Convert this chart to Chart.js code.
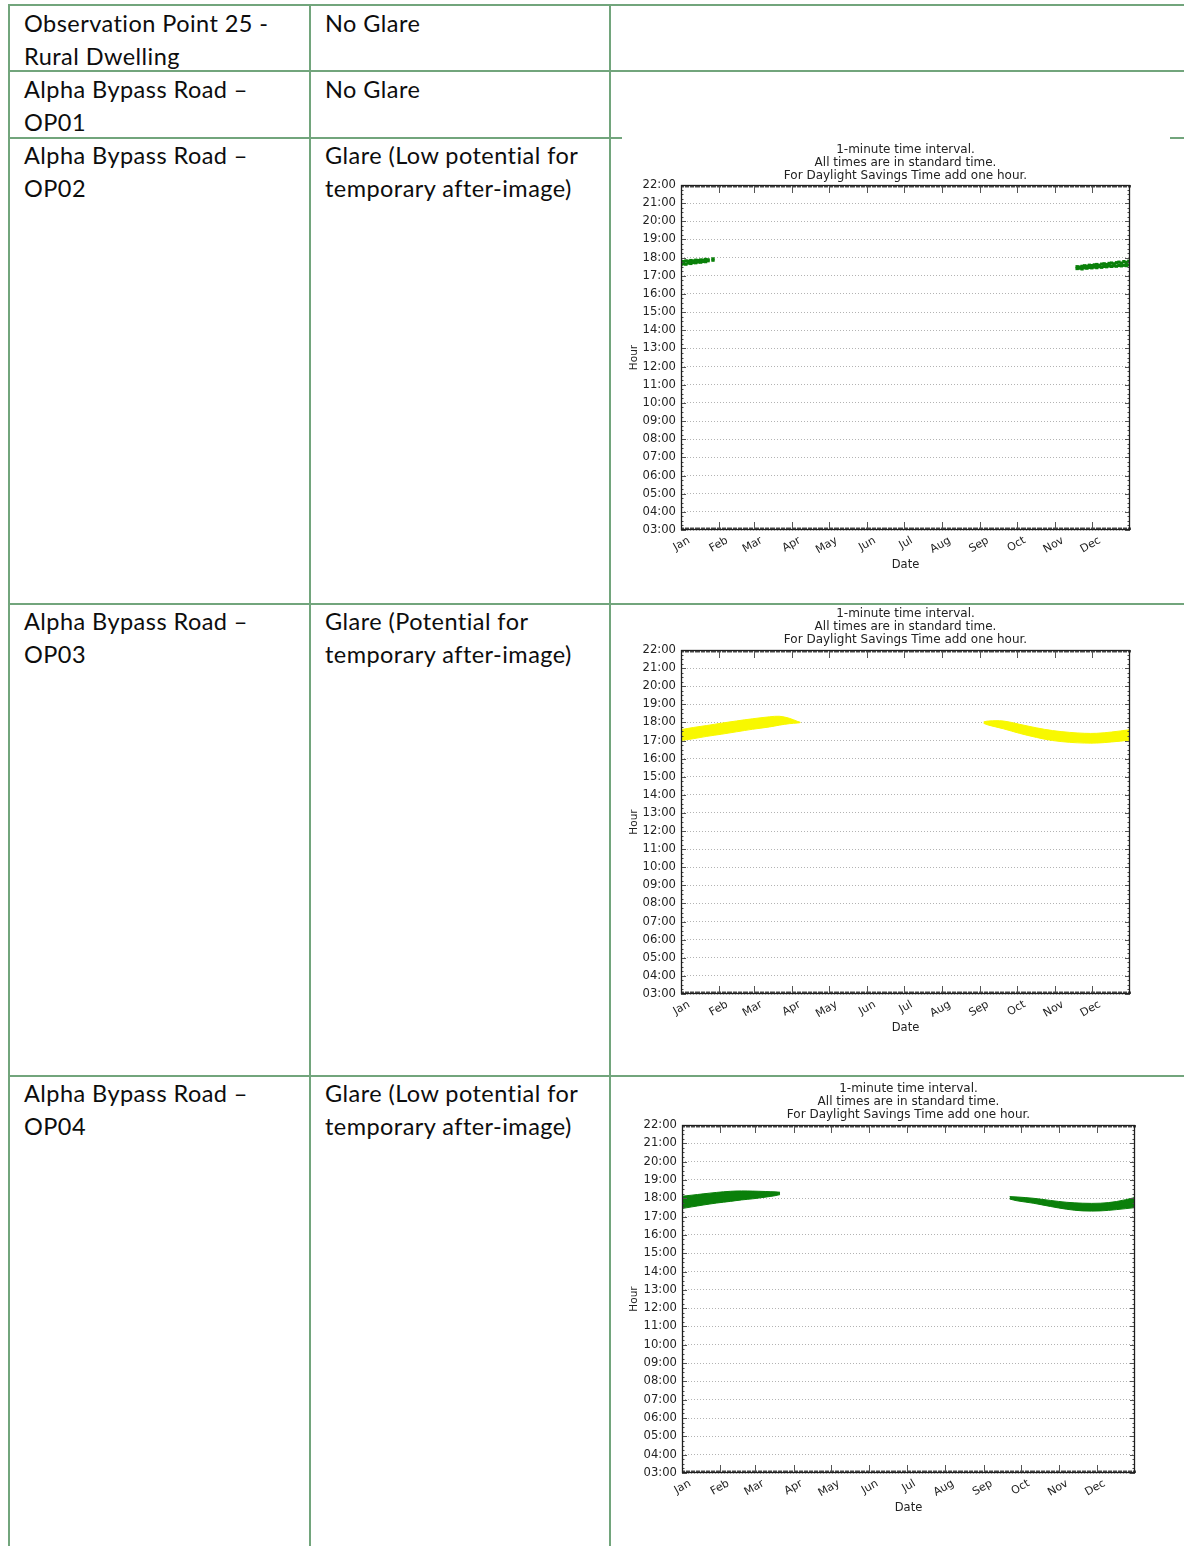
<!DOCTYPE html>
<html>
<head>
<meta charset="utf-8">
<script src="https://cdn.jsdelivr.net/npm/chart.js@4.4.0/dist/chart.umd.min.js"></script>
<style>
  html, body { margin: 0; padding: 0; background: #fff; }
  body { position: relative; width: 1184px; height: 1546px; overflow: hidden; }
  .hl { position: absolute; height: 2px; background: #72a57c; }
  .vl { position: absolute; width: 2px; background: #72a57c; }
  .cell { position: absolute; font-family: Lato, "Open Sans", sans-serif; font-size: 23.5px;
          letter-spacing: 0.45px; line-height: 33px; color: #0d0d0d; white-space: nowrap; }
  canvas { position: absolute; display: block; }
</style>
</head>
<body>

<!-- table rules -->
<div class="hl" style="left:8px;  top:4px;    width:1176px"></div>
<div class="hl" style="left:8px;  top:70px;   width:1176px"></div>
<div class="hl" style="left:8px;  top:137px;  width:614px"></div>
<div class="hl" style="left:1170px; top:137px; width:14px"></div>
<div class="hl" style="left:8px;  top:603px;  width:1176px"></div>
<div class="hl" style="left:8px;  top:1075px; width:1176px"></div>
<div class="vl" style="left:8px;   top:4px; height:1542px"></div>
<div class="vl" style="left:309px; top:4px; height:1542px"></div>
<div class="vl" style="left:609px; top:4px; height:1542px"></div>

<!-- table text -->
<div class="cell" style="left:24px;  top:6.5px">Observation Point 25 -<br>Rural Dwelling</div>
<div class="cell" style="left:325px; top:6.5px">No Glare</div>
<div class="cell" style="left:24px;  top:73px">Alpha Bypass Road –<br>OP01</div>
<div class="cell" style="left:325px; top:73px">No Glare</div>
<div class="cell" style="left:24px;  top:139px">Alpha Bypass Road –<br>OP02</div>
<div class="cell" style="left:325px; top:139px">Glare (Low potential for<br>temporary after-image)</div>
<div class="cell" style="left:24px;  top:605px">Alpha Bypass Road –<br>OP03</div>
<div class="cell" style="left:325px; top:605px">Glare (Potential for<br>temporary after-image)</div>
<div class="cell" style="left:24px;  top:1077px">Alpha Bypass Road –<br>OP04</div>
<div class="cell" style="left:325px; top:1077px">Glare (Low potential for<br>temporary after-image)</div>

<canvas id="op02" width="572" height="463" style="left:612px; top:139px; width:572px; height:463px"></canvas>
<canvas id="op03" width="572" height="469" style="left:612px; top:605px; width:572px; height:469px"></canvas>
<canvas id="op04" width="578" height="469" style="left:612px; top:1077px; width:578px; height:469px"></canvas>

<script>
// ---- axis labels ----
const noteLines = ['1-minute time interval.', 'All times are in standard time.', 'For Daylight Savings Time add one hour.'];
const monthLabels = ['Jan', 'Feb', 'Mar', 'Apr', 'May', 'Jun', 'Jul', 'Aug', 'Sep', 'Oct', 'Nov', 'Dec'];
const monthStartDays = [0, 31, 59, 90, 120, 151, 181, 212, 243, 273, 304, 334];
const hourMin = 3;
const hourMax = 22;

// ---- OP02: glare minutes (day of year, hour of day) ----
const op02JanDays   = [0, 2, 4, 6, 8, 10, 12, 14, 16, 18, 20, 22, 26];
const op02JanUpper  = [17.80, 17.78, 17.82, 17.80, 17.84, 17.82, 17.86, 17.84, 17.87, 17.86, 17.90, 17.88, 17.93];
const op02JanLower  = [17.62, 17.66, 17.64, 17.70, 17.68, 17.73, 17.72, 17.76, 17.75, 17.79, 17.78, 17.83, 17.86];
const op02DecDays   = [322, 324, 326, 328, 330, 332, 334, 336, 338, 340, 342, 344, 346, 348, 350, 352, 354, 356, 358, 360, 362, 364];
const op02DecUpper  = [17.50, 17.48, 17.52, 17.55, 17.53, 17.58, 17.56, 17.60, 17.62, 17.58, 17.64, 17.66, 17.62, 17.68, 17.70, 17.66, 17.72, 17.75, 17.70, 17.78, 17.74, 17.80];
const op02DecLower  = [17.40, 17.42, 17.38, 17.44, 17.42, 17.46, 17.44, 17.48, 17.45, 17.50, 17.47, 17.52, 17.50, 17.54, 17.52, 17.55, 17.53, 17.57, 17.55, 17.58, 17.56, 17.60];

// ---- OP03: glare window (first / last glare time per day) ----
const op03SpringDays  = [0, 10, 21, 33, 45, 58, 72, 80, 88, 95, 97];
const op03SpringLast  = [17.60, 17.72, 17.83, 17.96, 18.08, 18.20, 18.31, 18.34, 18.23, 18.05, 18.01];
const op03SpringFirst = [17.00, 17.10, 17.23, 17.35, 17.48, 17.62, 17.75, 17.85, 17.93, 17.97, 17.99];
const op03AutumnDays  = [246, 250, 262, 275, 289, 302, 316, 328, 338, 350, 365];
const op03AutumnLast  = [18.03, 18.08, 18.08, 17.90, 17.70, 17.55, 17.45, 17.40, 17.40, 17.47, 17.60];
const op03AutumnFirst = [17.95, 17.85, 17.65, 17.40, 17.17, 17.00, 16.90, 16.86, 16.86, 16.92, 17.02];

// ---- OP04: glare window (first / last glare time per day) ----
const op04SpringDays  = [0, 8, 17, 28, 39, 48, 57, 67, 75, 79];
const op04SpringLast  = [18.11, 18.17, 18.24, 18.32, 18.38, 18.40, 18.39, 18.37, 18.35, 18.33];
const op04SpringFirst = [17.44, 17.53, 17.63, 17.74, 17.83, 17.91, 17.97, 18.06, 18.14, 18.20];
const op04AutumnDays  = [264, 270, 283, 297, 310, 323, 337, 350, 365];
const op04AutumnLast  = [18.09, 18.07, 18.00, 17.88, 17.78, 17.73, 17.73, 17.82, 18.04];
const op04AutumnFirst = [17.96, 17.86, 17.73, 17.55, 17.40, 17.31, 17.31, 17.38, 17.49];

const GREEN = '#0a800a';
const YELLOW = '#f8f800';
const FONT = 'DejaVu Sans';
const TEXT = '#222';

const pts = (xs, ys) => xs.map((x, i) => ({ x: x, y: ys[i] }));

function dotSeries(xs, ys, color) {
  return {
    data: pts(xs, ys), showLine: false, pointStyle: 'rect', pointRadius: 2.3,
    pointBackgroundColor: color, pointBorderWidth: 0, borderColor: color
  };
}

// upper edge fills down to the lower edge that follows it
function bandSeries(xs, upper, lower, color) {
  const common = { showLine: true, pointRadius: 0, borderColor: color, borderWidth: 1,
                   backgroundColor: color, tension: 0.35 };
  return [
    Object.assign({ data: pts(xs, upper), fill: '+1' }, common),
    Object.assign({ data: pts(xs, lower), fill: false }, common)
  ];
}

// axes frame with inward major/minor ticks
const framePlugin = {
  id: 'frame',
  afterDatasetsDraw(chart) {
    const { ctx, chartArea: a, scales } = chart;
    const x = scales.x, y = scales.y;
    ctx.save();
    ctx.lineWidth = 1;
    ctx.strokeStyle = '#4a4a4a';
    ctx.beginPath();
    for (let d = 0; d <= 365; d++) {
      const px = Math.round(x.getPixelForValue(d)) + 0.5;
      ctx.moveTo(px, a.top); ctx.lineTo(px, a.top + 2.5);
      ctx.moveTo(px, a.bottom); ctx.lineTo(px, a.bottom - 2.5);
    }
    for (let q = hourMin * 4; q <= hourMax * 4; q++) {
      const py = Math.round(y.getPixelForValue(q / 4)) + 0.5;
      ctx.moveTo(a.left, py); ctx.lineTo(a.left + 2.5, py);
      ctx.moveTo(a.right, py); ctx.lineTo(a.right - 2.5, py);
    }
    ctx.stroke();
    ctx.strokeStyle = '#555';
    ctx.beginPath();
    monthStartDays.forEach(d => {
      const px = Math.round(x.getPixelForValue(d)) + 0.5;
      ctx.moveTo(px, a.top); ctx.lineTo(px, a.top + 8);
      ctx.moveTo(px, a.bottom); ctx.lineTo(px, a.bottom - 8);
    });
    for (let h = hourMin; h <= hourMax; h++) {
      const py = Math.round(y.getPixelForValue(h)) + 0.5;
      ctx.moveTo(a.left, py); ctx.lineTo(a.left + 5, py);
      ctx.moveTo(a.right, py); ctx.lineTo(a.right - 5, py);
    }
    ctx.stroke();
    ctx.strokeStyle = '#1e1e1e';
    ctx.lineWidth = 1.3;
    ctx.strokeRect(Math.round(a.left) + 0.5, Math.round(a.top) + 0.5,
                   Math.round(a.width) - 1, Math.round(a.height) - 1);
    ctx.restore();
  }
};

function glareChart(id, datasets, g) {
  return new Chart(document.getElementById(id), {
    type: 'line',
    data: { datasets: datasets },
    plugins: [framePlugin],
    options: {
      responsive: false, animation: false, devicePixelRatio: 1,
      layout: { padding: { left: 15, right: 0, top: 0, bottom: g.padBottom } },
      plugins: {
        legend: { display: false },
        tooltip: { enabled: false },
        title: {
          display: true, text: noteLines, color: TEXT,
          font: { family: FONT, size: 12, weight: 'normal', lineHeight: '13px' },
          padding: { top: g.titleTop, bottom: g.titleBottom }
        }
      },
      scales: {
        x: {
          type: 'linear', min: 0, max: 365,
          afterFit(s) { s.height = 50; },
          afterBuildTicks(s) { s.ticks = monthStartDays.map(v => ({ value: v })); },
          ticks: {
            autoSkip: false, minRotation: 30, maxRotation: 30, padding: 4, labelOffset: 8,
            color: TEXT, font: { family: FONT, size: 11 },
            callback: (v, i) => monthLabels[i]
          },
          grid: { display: false, drawTicks: false },
          border: { display: false },
          title: { display: true, text: 'Date', color: TEXT, font: { family: FONT, size: 11.5 },
                   padding: { top: 0, bottom: g.dateBottom } }
        },
        y: {
          type: 'linear', position: 'left', min: hourMin, max: hourMax,
          afterFit(s) { s.width = g.axisW; },
          ticks: {
            stepSize: 1, autoSkip: false, padding: 5, color: TEXT, font: { family: FONT, size: 11.6 },
            callback: v => String(v).padStart(2, '0') + ':00'
          },
          grid: { color: '#b3b3b3', lineWidth: 1, drawTicks: false },
          border: { display: false, dash: [1, 2] },
          title: { display: true, text: 'Hour', color: TEXT, font: { family: FONT, size: 10.5 },
                   padding: { top: 1, bottom: 0 } }
        },
        yRight: {
          type: 'linear', position: 'right', min: hourMin, max: hourMax,
          afterFit(s) { s.width = g.axisW; },
          ticks: { display: false },
          grid: { display: false, drawTicks: false },
          border: { display: false }
        }
      }
    }
  });
}

glareChart('op02', [
  dotSeries(op02JanDays, op02JanUpper, GREEN),
  dotSeries(op02JanDays, op02JanLower, GREEN),
  dotSeries(op02DecDays, op02DecUpper, GREEN),
  dotSeries(op02DecDays, op02DecLower, GREEN)
], { axisW: 54, padBottom: 22, titleTop: 4, titleBottom: 3, dateBottom: 8 });

glareChart('op03', [].concat(
  bandSeries(op03SpringDays, op03SpringLast, op03SpringFirst, YELLOW),
  bandSeries(op03AutumnDays, op03AutumnLast, op03AutumnFirst, YELLOW)
), { axisW: 54, padBottom: 30, titleTop: 2, titleBottom: 4, dateBottom: 9 });

glareChart('op04', [].concat(
  bandSeries(op04SpringDays, op04SpringLast, op04SpringFirst, GREEN),
  bandSeries(op04AutumnDays, op04AutumnLast, op04AutumnFirst, GREEN)
), { axisW: 55, padBottom: 23, titleTop: 5.5, titleBottom: 3.5, dateBottom: 8 });
</script>
</body>
</html>
